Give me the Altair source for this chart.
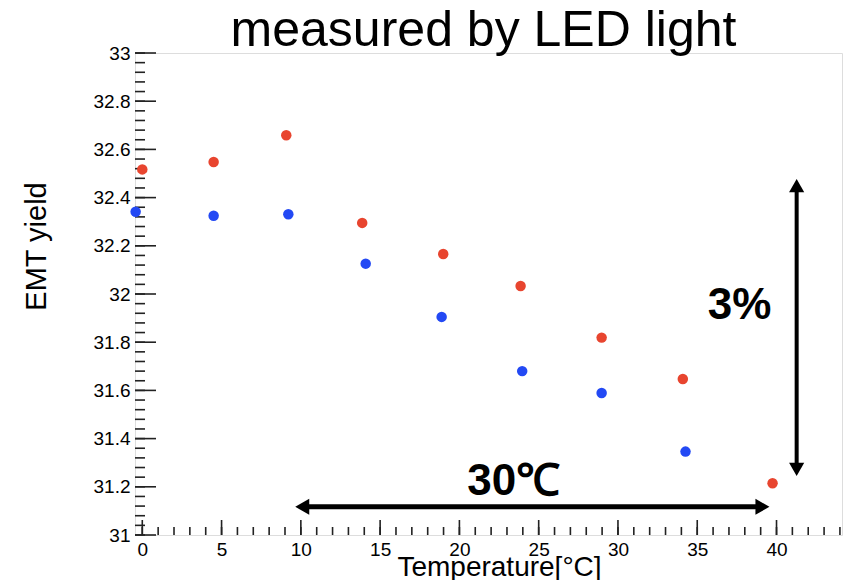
import altair as alt
import pandas as pd

# ---- data ----
temp_red = [0.0, 4.50, 9.08, 13.87, 18.98, 23.86, 28.97, 34.09, 39.75]
yield_red = [32.517, 32.548, 32.659, 32.295, 32.166, 32.033, 31.819, 31.647, 31.215]
temp_blue = [-0.42, 4.50, 9.21, 14.09, 18.88, 23.96, 28.97, 34.26]
yield_blue = [32.341, 32.325, 32.331, 32.126, 31.905, 31.680, 31.589, 31.346]

x_major = [0, 5, 10, 15, 20, 25, 30, 35, 40]
x_minor = list(range(0, 45))
y_major = [round(31 + 0.2 * i, 2) for i in range(11)]
y_minor = [round(31 + 0.04 * i, 2) for i in range(51)]

# annotations (data coordinates)
harrow_x = [9.52]
harrow_x2 = [39.68]
harrow_y = [31.117]
varrow_x = [41.27]
varrow_y = [31.235]
varrow_y2 = [32.487]
label_texts = ["30℃", "3%"]
label_x = [20.5, 35.67]
label_y = [31.166, 31.896]
title_text = ["measured by LED light"]

X_DOMAIN = [-0.46, 44.13]
Y_DOMAIN = [31.0, 33.0]
W, H = 707, 482
FONT = "Liberation Sans"

pts = pd.DataFrame({
    "t": temp_red + temp_blue,
    "v": yield_red + yield_blue,
    "s": ["a"] * len(temp_red) + ["b"] * len(temp_blue),
})

xscale = alt.Scale(domain=X_DOMAIN, nice=False, zero=False)
yscale = alt.Scale(domain=Y_DOMAIN, nice=False, zero=False)

xaxis = alt.Axis(values=x_major, ticks=False, domain=False, grid=False,
                 labelFont=FONT, labelFontSize=19, labelColor="black", labelPadding=5,
                 title="Temperature[°C]", titleFont=FONT, titleFontSize=28,
                 titleFontWeight="normal", titleColor="black",
                 titleX=364, titleY=40, titleBaseline="alphabetic", titleAlign="center")
yaxis = alt.Axis(values=y_major, format="~g", ticks=False, domain=False, grid=False,
                 labelFont=FONT, labelFontSize=19, labelColor="black", labelPadding=5,
                 title="EMT yield", titleFont=FONT, titleFontSize=29,
                 titleFontWeight="normal", titleColor="black",
                 titleX=-90, titleY=193, titleAngle=-90, titleBaseline="alphabetic",
                 titleAlign="center")

points = alt.Chart(pts).mark_circle(size=110, opacity=1).encode(
    x=alt.X("t:Q", scale=xscale, axis=xaxis),
    y=alt.Y("v:Q", scale=yscale, axis=yaxis),
    color=alt.Color("s:N", scale=alt.Scale(domain=["a", "b"], range=["#e8452f", "#2349f4"]),
                    legend=None),
)

TICK_COL = "#222222"
xmaj = alt.Chart(pd.DataFrame({"t": x_major})).mark_rule(color=TICK_COL, strokeWidth=1.6).encode(
    x=alt.X("t:Q", scale=xscale, axis=xaxis), y=alt.value(H), y2=alt.value(H - 15))
xmin = alt.Chart(pd.DataFrame({"t": x_minor})).mark_rule(color=TICK_COL, strokeWidth=1.6).encode(
    x=alt.X("t:Q", scale=xscale, axis=xaxis), y=alt.value(H), y2=alt.value(H - 8))
ymaj = alt.Chart(pd.DataFrame({"v": y_major})).mark_rule(color=TICK_COL, strokeWidth=1.6).encode(
    y=alt.Y("v:Q", scale=yscale, axis=yaxis), x=alt.value(0), x2=alt.value(21))
ymin = alt.Chart(pd.DataFrame({"v": y_minor})).mark_rule(color=TICK_COL, strokeWidth=1.6).encode(
    y=alt.Y("v:Q", scale=yscale, axis=yaxis), x=alt.value(0), x2=alt.value(10))

hdf = pd.DataFrame({"x": harrow_x, "x2": harrow_x2, "y": harrow_y})
hline = alt.Chart(hdf).mark_rule(color="black", strokeWidth=5, xOffset=10, x2Offset=-10).encode(
    x=alt.X("x:Q", scale=xscale, axis=xaxis), x2="x2:Q", y=alt.Y("y:Q", scale=yscale, axis=yaxis))
hleft = alt.Chart(hdf).mark_point(shape="triangle-left", filled=True, size=260, opacity=1,
                                  color="black", xOffset=9).encode(
    x=alt.X("x:Q", scale=xscale, axis=xaxis), y=alt.Y("y:Q", scale=yscale, axis=yaxis))
hright = alt.Chart(hdf).mark_point(shape="triangle-right", filled=True, size=260, opacity=1,
                                   color="black", xOffset=-9).encode(
    x=alt.X("x2:Q", scale=xscale, axis=xaxis), y=alt.Y("y:Q", scale=yscale, axis=yaxis))

vdf = pd.DataFrame({"x": varrow_x, "y": varrow_y, "y2": varrow_y2})
vline = alt.Chart(vdf).mark_rule(color="black", strokeWidth=4, yOffset=-10, y2Offset=10).encode(
    x=alt.X("x:Q", scale=xscale, axis=xaxis), y=alt.Y("y:Q", scale=yscale, axis=yaxis), y2="y2:Q")
vdown = alt.Chart(vdf).mark_point(shape="triangle-down", filled=True, size=230, opacity=1,
                                  color="black", yOffset=-9).encode(
    x=alt.X("x:Q", scale=xscale, axis=xaxis), y=alt.Y("y:Q", scale=yscale, axis=yaxis))
vup = alt.Chart(vdf).mark_point(shape="triangle-up", filled=True, size=230, opacity=1,
                                color="black", yOffset=9).encode(
    x=alt.X("x:Q", scale=xscale, axis=xaxis), y=alt.Y("y2:Q", scale=yscale, axis=yaxis))

ldf = pd.DataFrame({"x": label_x, "y": label_y, "txt": label_texts})
labels = alt.Chart(ldf).mark_text(font=FONT, fontSize=44, fontWeight="bold", color="black",
                                  align="left", baseline="alphabetic").encode(
    x=alt.X("x:Q", scale=xscale, axis=xaxis), y=alt.Y("y:Q", scale=yscale, axis=yaxis),
    text="txt:N")

title = alt.Chart(pd.DataFrame({"txt": title_text})).mark_text(
    font=FONT, fontSize=50, color="black", align="center", baseline="alphabetic"
).encode(x=alt.value(W / 2 - 5), y=alt.value(-7), text="txt:N")

chart = alt.layer(
    xmin, xmaj, ymin, ymaj, points, hline, hleft, hright, vline, vdown, vup, labels, title
).properties(
    width=W, height=H,
    padding={"left": 135, "top": 53, "right": 2, "bottom": 45},
    autosize="none",
).configure_view(stroke="black", strokeWidth=1.5, clip=False).configure(background="white")

chart.save("out.html", embed_options={"renderer": "svg", "actions": False})
